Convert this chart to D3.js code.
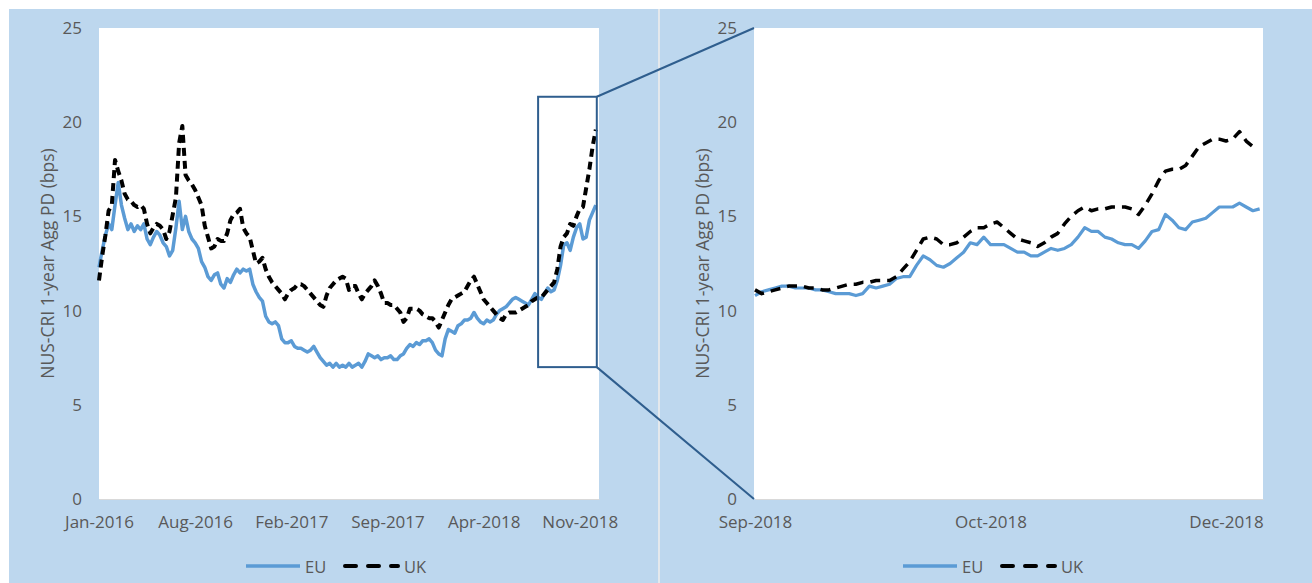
<!DOCTYPE html>
<html>
<head>
<meta charset="utf-8">
<script src="https://cdn.jsdelivr.net/npm/d3@7"></script>
<style>
  body { margin: 0; background: #fff; }
  svg text { font-family: "Open Sans", sans-serif; fill: #595959; }
</style>
</head>
<body>
<svg id="chart" width="1312" height="583"></svg>
<script>
// ---- data ----
const seriesNames = ["EU", "UK"];
const yTicks = [0, 5, 10, 15, 20, 25];
const yTitle = "NUS-CRI 1-year Agg PD (bps)";

// left chart: weekly observations, Jan-2016 .. Dec-2018
const leftDates = d3.timeMonday.range(new Date(2016, 0, 4), new Date(2018, 11, 25));
const leftTicks = ["2016-01-04", "2016-08-01", "2017-02-27", "2017-09-25", "2018-04-23", "2018-11-19"];
const leftEU = [
  12.3, 13.2, 14.0, 14.6, 14.3, 15.6, 16.8, 15.6, 14.9, 14.3,
  14.6, 14.2, 14.5, 14.3, 14.6, 13.8, 13.5, 13.9, 14.2, 14.0,
  13.6, 13.4, 12.9, 13.2, 14.4, 15.8, 14.3, 15.0, 14.2, 13.8,
  13.6, 13.3, 12.6, 12.3, 11.8, 11.6, 11.9, 12.0, 11.4, 11.2,
  11.7, 11.5, 11.9, 12.2, 12.0, 12.2, 12.1, 12.2, 11.4, 11.0,
  10.7, 10.5, 9.7, 9.4, 9.3, 9.4, 9.2, 8.5, 8.3, 8.3,
  8.4, 8.1, 8.0, 8.0, 7.9, 7.8, 7.9, 8.1, 7.8, 7.5,
  7.3, 7.1, 7.2, 7.0, 7.2, 7.0, 7.1, 7.0, 7.2, 7.0,
  7.1, 7.2, 7.0, 7.3, 7.7, 7.6, 7.5, 7.6, 7.4, 7.5,
  7.5, 7.6, 7.4, 7.4, 7.6, 7.7, 8.0, 8.2, 8.1, 8.3,
  8.2, 8.4, 8.4, 8.5, 8.3, 7.9, 7.7, 7.6, 8.5, 9.0,
  8.9, 8.8, 9.2, 9.3, 9.5, 9.5, 9.6, 9.9, 9.6, 9.4,
  9.3, 9.5, 9.4, 9.5, 9.8, 10.0, 10.1, 10.2, 10.4, 10.6,
  10.7, 10.6, 10.5, 10.4, 10.3, 10.6, 10.9, 10.7, 10.6, 10.9,
  11.2, 11.0, 11.1, 11.6, 12.4, 13.5, 13.6, 13.2, 13.9, 14.4,
  14.6, 13.8, 13.9, 14.8, 15.2, 15.6
];
const leftUK = [
  11.6, 12.9, 14.0, 15.3, 15.6, 18.0, 17.4, 16.9, 16.2, 15.9,
  15.8, 15.6, 15.5, 15.6, 15.4, 14.6, 14.1, 14.4, 14.6, 14.5,
  14.3, 13.8, 14.2, 15.1, 16.0, 18.9, 19.8, 17.2, 16.9, 16.7,
  16.4, 16.0, 15.6, 14.5, 13.9, 13.3, 13.4, 13.8, 13.7, 13.7,
  14.1, 14.8, 15.1, 15.2, 15.4, 14.4, 14.1, 13.9, 13.2, 12.5,
  12.6, 12.8, 12.2, 11.8, 11.5, 11.3, 11.1, 10.9, 10.6, 10.9,
  11.1, 11.2, 11.4, 11.4, 11.3, 11.1, 10.9, 10.7, 10.5, 10.3,
  10.2, 10.8, 11.2, 11.4, 11.6, 11.7, 11.8, 11.7, 11.1, 11.3,
  11.3, 10.9, 10.6, 10.9, 11.1, 11.3, 11.6, 11.3, 10.9, 10.4,
  10.4, 10.3, 10.3, 10.1, 9.9, 9.4, 9.6, 10.1, 10.1, 10.1,
  10.0, 9.8, 9.7, 9.6, 9.6, 9.4, 9.1, 9.5, 9.9, 10.3,
  10.6, 10.7, 10.8, 10.9, 11.0, 11.3, 11.6, 11.8, 11.4, 11.0,
  10.6, 10.4, 10.2, 10.0, 9.8, 9.6, 9.5, 9.8, 9.9, 9.9,
  9.9, 10.0, 10.1, 10.2, 10.3, 10.5, 10.6, 10.7, 10.7, 10.9,
  11.1, 11.3, 11.5, 12.2, 13.4, 13.9, 14.1, 14.6, 14.5, 15.0,
  15.4, 15.5, 16.5, 17.5, 18.7, 19.6
];

// right chart: trading days from Sep-2018
const rightDates = d3.timeDay.range(new Date(2018, 8, 3), new Date(2018, 11, 20))
  .filter(d => d.getDay() !== 0 && d.getDay() !== 6);
const rightTickIdx = [0, 35, 70];
const rightEU = [
  10.8, 11.0, 11.1, 11.2, 11.3, 11.3, 11.2, 11.2, 11.2, 11.1,
  11.1, 11.0, 10.9, 10.9, 10.9, 10.8, 10.9, 11.3, 11.2, 11.3,
  11.4, 11.7, 11.8, 11.8, 12.4, 12.9, 12.7, 12.4, 12.3, 12.5,
  12.8, 13.1, 13.6, 13.5, 13.9, 13.5, 13.5, 13.5, 13.3, 13.1,
  13.1, 12.9, 12.9, 13.1, 13.3, 13.2, 13.3, 13.5, 13.9, 14.4,
  14.2, 14.2, 13.9, 13.8, 13.6, 13.5, 13.5, 13.3, 13.7, 14.2,
  14.3, 15.1, 14.8, 14.4, 14.3, 14.7, 14.8, 14.9, 15.2, 15.5,
  15.5, 15.5, 15.7, 15.5, 15.3, 15.4
];
const rightUK = [
  11.1, 10.9, 11.0, 11.1, 11.2, 11.3, 11.3, 11.3, 11.2, 11.2,
  11.1, 11.1, 11.2, 11.3, 11.4, 11.4, 11.5, 11.5, 11.6, 11.6,
  11.6, 11.8, 12.2, 12.6, 13.2, 13.8, 13.9, 13.8, 13.5, 13.5,
  13.6, 13.9, 14.2, 14.4, 14.4, 14.6, 14.7, 14.4, 14.1, 13.8,
  13.7, 13.6, 13.4, 13.6, 13.9, 14.1, 14.6, 15.0, 15.3, 15.5,
  15.3, 15.4, 15.4, 15.5, 15.5, 15.5, 15.4, 15.1, 15.6, 16.2,
  16.9, 17.4, 17.5, 17.5, 17.7, 18.2, 18.7, 18.9, 19.1, 19.1,
  19.0, 19.1, 19.5, 19.0, 18.7
];

// zoom window marked on the left chart
const zoomFrom = "2018-08-20";
const zoomLow = 7, zoomHigh = 21.35;

// ---- layout ----
const BLUE_BG = "#BDD7EE";
const EU_COL = "#5B9BD5";
const ZOOM_COL = "#2F5E8E";
const PLOT_T = 28, PLOT_B = 499;
const LEFT = { x0: 99, x1: 599 };
const RIGHT = { x0: 754, x1: 1263 };
const parse = d3.timeParse("%Y-%m-%d");
const fmtMonth = d3.timeFormat("%b-%Y");

const svg = d3.select("#chart");

// panels
svg.append("rect").attr("x", 9).attr("y", 9).attr("width", 649).attr("height", 574).attr("fill", BLUE_BG);
svg.append("rect").attr("x", 660).attr("y", 9).attr("width", 652).attr("height", 574).attr("fill", BLUE_BG);
svg.append("rect").attr("x", 658).attr("y", 9).attr("width", 2).attr("height", 574).attr("fill", "#E4E8EC");

const y = d3.scaleLinear().domain([0, 25]).range([PLOT_B, PLOT_T]);

const xL = d3.scaleTime()
  .domain([new Date(2016, 0, 4), new Date(2018, 11, 31)])
  .range([LEFT.x0, LEFT.x1]);
const xR = d3.scaleLinear().domain([0, 75.5]).range([RIGHT.x0 + 1, RIGHT.x1]);

function drawFrame(p, xAxis, titleX, legendX) {
  svg.append("rect")
    .attr("x", p.x0).attr("y", PLOT_T)
    .attr("width", p.x1 - p.x0).attr("height", PLOT_B - PLOT_T)
    .attr("fill", "#fff");

  const gy = svg.append("g").attr("transform", `translate(${p.x0},0)`)
    .call(d3.axisLeft(y).tickValues(yTicks).tickSize(0).tickPadding(17));
  gy.select(".domain").remove();
  gy.selectAll("text").style("font-size", "17px").style("font-family", null).attr("fill", null);

  const gx = svg.append("g").attr("transform", `translate(0,${PLOT_B})`).call(xAxis);
  gx.select(".domain").attr("stroke", "#D9D9D9");
  gx.selectAll("text").style("font-size", "17px").style("font-family", null).attr("fill", null);

  svg.append("text")
    .attr("transform", `translate(${titleX},${(PLOT_T + PLOT_B) / 2}) rotate(-90)`)
    .attr("text-anchor", "middle")
    .attr("dominant-baseline", "central")
    .style("font-size", "17.5px")
    .text(yTitle);

  // legend
  const lg = svg.append("g").attr("transform", `translate(${legendX},566)`);
  lg.append("line").attr("x1", 0).attr("x2", 54)
    .attr("stroke", EU_COL).attr("stroke-width", 3.5);
  lg.append("text").attr("x", 59).attr("dominant-baseline", "central")
    .style("font-size", "16.5px").text(seriesNames[0]);
  lg.append("line").attr("x1", 99).attr("x2", 152)
    .attr("stroke", "#000").attr("stroke-width", 4)
    .attr("stroke-dasharray", "11,12").attr("stroke-linecap", "round");
  lg.append("text").attr("x", 158).attr("dominant-baseline", "central")
    .style("font-size", "16.5px").text(seriesNames[1]);
}

// left chart
drawFrame(LEFT,
  d3.axisBottom(xL).tickValues(leftTicks.map(parse)).tickFormat(fmtMonth).tickSize(0).tickPadding(17),
  47, 246);

const lineL = (vals) => d3.line().x((d, i) => xL(leftDates[i])).y(d => y(d))(vals);
svg.append("path").attr("d", lineL(leftEU))
  .attr("fill", "none").attr("stroke", EU_COL).attr("stroke-width", 3.5)
  .attr("stroke-linejoin", "round");
svg.append("path").attr("d", lineL(leftUK))
  .attr("fill", "none").attr("stroke", "#000").attr("stroke-width", 4)
  .attr("stroke-dasharray", "8,5").attr("stroke-linejoin", "round");

// right chart
drawFrame(RIGHT,
  d3.axisBottom(xR).tickValues(rightTickIdx).tickFormat(i => fmtMonth(rightDates[i])).tickSize(0).tickPadding(17),
  702, 903);

const lineR = (vals) => d3.line().x((d, i) => xR(i)).y(d => y(d))(vals);
svg.append("path").attr("d", lineR(rightEU))
  .attr("fill", "none").attr("stroke", EU_COL).attr("stroke-width", 3.2)
  .attr("stroke-linejoin", "round");
svg.append("path").attr("d", lineR(rightUK))
  .attr("fill", "none").attr("stroke", "#000").attr("stroke-width", 3.5)
  .attr("stroke-dasharray", "10,7").attr("stroke-linejoin", "round");

// zoom box + connectors
const zx0 = xL(parse(zoomFrom)), zx1 = xL(leftDates[leftDates.length - 1]) + 1;
const zy0 = y(zoomHigh), zy1 = y(zoomLow);
svg.append("rect")
  .attr("x", zx0).attr("y", zy0).attr("width", zx1 - zx0).attr("height", zy1 - zy0)
  .attr("fill", "none").attr("stroke", ZOOM_COL).attr("stroke-width", 2);
svg.append("line").attr("x1", zx1).attr("y1", zy0).attr("x2", RIGHT.x0).attr("y2", y(25))
  .attr("stroke", ZOOM_COL).attr("stroke-width", 2);
svg.append("line").attr("x1", zx1).attr("y1", zy1).attr("x2", RIGHT.x0).attr("y2", y(0))
  .attr("stroke", ZOOM_COL).attr("stroke-width", 2);
</script>
</body>
</html>
